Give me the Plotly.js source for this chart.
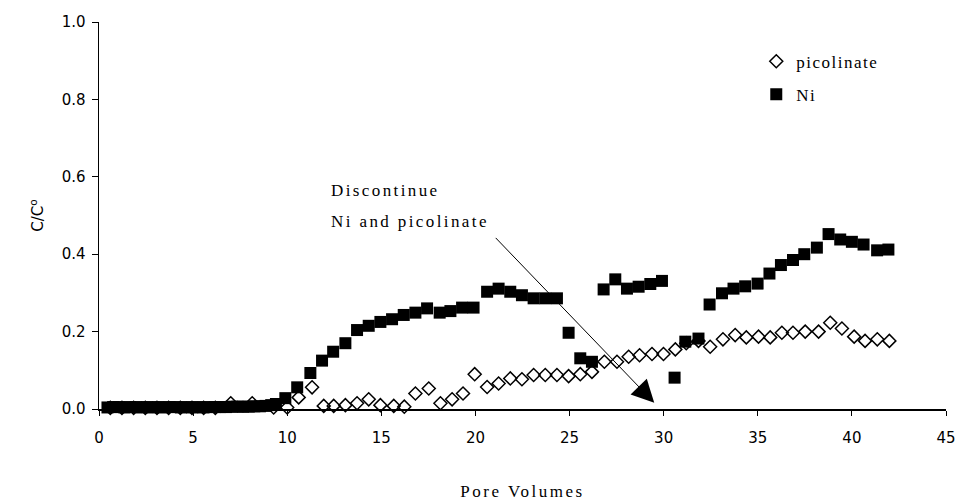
<!DOCTYPE html>
<html>
<head>
<meta charset="utf-8">
<script src="https://cdn.plot.ly/plotly-3.0.1.min.js"></script>
<style>
  html, body { margin: 0; padding: 0; background: #fff; }
  #chart { width: 957px; height: 501px; }
  .annotation-text { letter-spacing: 2.4px; }
  .legendtext { letter-spacing: 1.5px; }
  .xtitle { letter-spacing: 2.5px; }
</style>
</head>
<body>
<div id="chart"></div>
<script>
// Ni (filled squares)
const niX = [0.45,0.75,1.05,1.35,1.65,1.95,2.25,2.55,2.85,3.15,3.45,3.75,4.05,4.35,4.65,4.95,
  5.25,5.55,5.85,6.15,6.45,6.75,7.05,7.35,7.65,7.95,8.25,8.55,8.85,9.15,9.40,
  9.90,10.53,11.23,11.85,12.44,13.09,13.71,14.33,14.95,15.57,16.19,16.81,17.43,18.10,18.67,
  19.29,19.90,20.62,21.23,21.85,22.47,23.09,23.71,24.33,24.95,25.57,26.19,26.81,27.43,28.05,
  28.67,29.29,29.91,30.58,31.15,31.85,32.44,33.10,33.71,34.33,34.99,35.62,36.23,36.87,37.47,
  38.14,38.76,39.38,40.00,40.62,41.34,41.94];
const niY = [0.004,0.005,0.005,0.004,0.005,0.005,0.004,0.005,0.004,0.005,0.004,0.005,0.005,0.004,0.005,0.004,
  0.005,0.004,0.005,0.005,0.005,0.005,0.006,0.006,0.006,0.006,0.007,0.007,0.008,0.010,0.013,
  0.028,0.056,0.093,0.125,0.148,0.170,0.204,0.215,0.225,0.232,0.243,0.249,0.260,0.249,0.253,
  0.262,0.262,0.303,0.311,0.303,0.294,0.286,0.286,0.286,0.197,0.131,0.122,0.309,0.335,0.311,
  0.316,0.323,0.331,0.081,0.174,0.182,0.270,0.299,0.311,0.317,0.324,0.350,0.372,0.385,0.400,
  0.417,0.452,0.438,0.432,0.425,0.410,0.412];

// picolinate (open diamonds)
const picX = [0.60,1.22,1.84,2.46,3.08,3.70,4.32,4.94,5.56,6.18,7.00,8.14,9.28,
  10.00,10.61,11.32,11.94,12.47,13.09,13.71,14.33,14.95,15.66,16.22,16.81,17.52,18.14,18.76,
  19.34,19.96,20.62,21.23,21.85,22.47,23.09,23.71,24.33,24.95,25.57,26.19,26.85,27.52,28.14,
  28.72,29.38,29.99,30.62,31.20,31.85,32.47,33.15,33.80,34.39,35.04,35.66,36.28,36.87,37.52,
  38.23,38.85,39.47,40.12,40.70,41.35,41.99];
const picY = [0.003,0.003,0.003,0.003,0.003,0.003,0.003,0.003,0.003,0.003,0.015,0.015,0.004,
  0.004,0.030,0.056,0.008,0.008,0.010,0.015,0.025,0.010,0.008,0.006,0.040,0.053,0.015,0.025,
  0.040,0.090,0.057,0.066,0.079,0.077,0.088,0.088,0.088,0.085,0.090,0.096,0.122,0.122,0.135,
  0.139,0.142,0.142,0.154,0.170,0.176,0.161,0.180,0.191,0.185,0.187,0.185,0.197,0.197,0.200,
  0.200,0.223,0.208,0.187,0.176,0.180,0.176];

const seriesNames = ['picolinate', 'Ni'];
const xTicks = [0,5,10,15,20,25,30,35,40,45];
const yTicks = [0.0,0.2,0.4,0.6,0.8,1.0];

const serif = 'Liberation Serif, Times New Roman, serif';
const sans = 'DejaVu Sans, Liberation Sans, Arial, sans-serif';

const traces = [
  {
    x: picX, y: picY, name: seriesNames[0], type: 'scatter', mode: 'markers',
    legendgroup: 'a', cliponaxis: false,
    marker: {symbol: 'diamond-open', size: 10, color: '#000', line: {width: 1.5, color: '#000'}}
  },
  {
    x: niX, y: niY, name: seriesNames[1], type: 'scatter', mode: 'markers',
    legendgroup: 'b', cliponaxis: false,
    marker: {symbol: 'square', size: 12, color: '#000'}
  }
];

const layout = {
  width: 957, height: 501,
  paper_bgcolor: '#fff', plot_bgcolor: '#fff',
  margin: {l: 98.5, r: 11, t: 21.5, b: 92},
  showlegend: true,
  legend: {
    x: 0.776, y: 0.944, xanchor: 'left', yanchor: 'top',
    font: {family: serif, size: 17, color: '#000'},
    bgcolor: 'rgba(0,0,0,0)', borderwidth: 0, tracegroupgap: 8, itemwidth: 30
  },
  xaxis: {
    range: [0, 45], tickvals: xTicks, ticktext: xTicks.map(String),
    showgrid: false, zeroline: false, showline: true, linecolor: '#000', linewidth: 1.5,
    ticks: 'outside', ticklen: 5, tickwidth: 1, tickcolor: '#000', ticklabelstandoff: 9,
    tickfont: {family: sans, size: 15, color: '#000'},
    title: {text: 'Pore Volumes', font: {family: serif, size: 17, color: '#000'}, standoff: 40}
  },
  yaxis: {
    range: [0, 1], tickvals: yTicks, ticktext: yTicks.map(v => v.toFixed(1)),
    showgrid: false, zeroline: false, showline: true, linecolor: '#000', linewidth: 1.5,
    ticks: 'outside', ticklen: 6, tickwidth: 1, tickcolor: '#000', ticklabelstandoff: 3,
    tickfont: {family: sans, size: 15, color: '#000'},
    title: {text: 'C/C<sup>o</sup>', font: {family: sans, size: 15, color: '#000'}, standoff: 14}
  },
  annotations: [
    {xref: 'x', yref: 'y', x: 12.24, y: 0.565, xanchor: 'left', yanchor: 'middle', showarrow: false,
     text: 'Discontinue', font: {family: serif, size: 17, color: '#000'}},
    {xref: 'x', yref: 'y', x: 12.24, y: 0.485, xanchor: 'left', yanchor: 'middle', showarrow: false,
     text: 'Ni and picolinate', font: {family: serif, size: 17, color: '#000'}},
    {xref: 'x', yref: 'y', axref: 'x', ayref: 'y', x: 29.5, y: 0.016, ax: 21.0, ay: 0.446,
     text: '', showarrow: true, arrowhead: 2, arrowsize: 4.5, arrowwidth: 1, arrowcolor: '#000', standoff: 0, startstandoff: 0}
  ]
};

Plotly.newPlot('chart', traces, layout, {staticPlot: true, displayModeBar: false});
</script>
</body>
</html>
